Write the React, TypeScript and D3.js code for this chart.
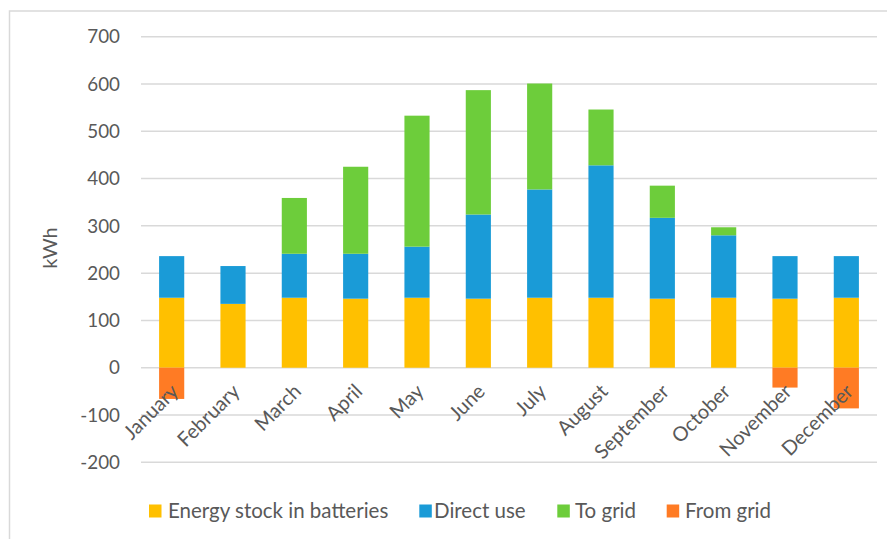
import React from "react";
import * as d3 from "d3";

const months = [
  "January", "February", "March", "April", "May", "June",
  "July", "August", "September", "October", "November", "December",
];
const batteryStock = [148, 135, 148, 146, 148, 146, 148, 148, 146, 148, 146, 148];
const directUse = [88, 80, 93, 95, 108, 178, 229, 280, 171, 132, 90, 88];
const toGrid = [0, 0, 118, 184, 277, 263, 224, 118, 68, 17, 0, 0];
const fromGrid = [-66, 0, 0, 0, 0, 0, 0, 0, 0, 0, -42, -86];
const yTicks = [-200, -100, 0, 100, 200, 300, 400, 500, 600, 700];

const seriesNames = ["Energy stock in batteries", "Direct use", "To grid", "From grid"];
const seriesColors = ["#FFC000", "#1A9BD7", "#6DCD3B", "#FF7B24"];

const W = 887;
const H = 539;
const plot = { left: 141, right: 877, top: 36.7, bottom: 462.3 };
const FONT = "Lato, 'Open Sans', sans-serif";
const TEXT = "#595959";
const GRID = "#D9D9D9";

export default function App() {
  const x = d3.scaleBand<string>()
    .domain(months)
    .range([plot.left, plot.right])
    .paddingInner(0.59)
    .paddingOuter(0.295);
  const y = d3.scaleLinear().domain([-200, 700]).range([plot.bottom, plot.top]);

  const rows = months.map((m, i) => ({
    month: m,
    stock: batteryStock[i],
    direct: directUse[i],
    grid: toGrid[i],
  }));
  const stacked = d3.stack<any>().keys(["stock", "direct", "grid"])(rows);

  const legendItems = [
    { x: 149, textX: 168 },
    { x: 419.3, textX: 434 },
    { x: 557.3, textX: 575 },
    { x: 666.7, textX: 685 },
  ];

  return (
    <svg
      width={W}
      height={H}
      style={{ position: "absolute", left: 0, top: 0, background: "#fff" }}
      fontFamily={FONT}
    >
      <rect x={9.5} y={11} width={W + 20} height={H + 20} fill="#fff" stroke={GRID} strokeWidth={1.5} />

      {yTicks.map((t) => (
        <g key={t}>
          <line x1={plot.left} x2={plot.right} y1={y(t)} y2={y(t)} stroke={GRID} strokeWidth={1.5} />
          <text x={120} y={y(t)} dy="0.36em" textAnchor="end" fontSize={18.8} fill={TEXT}>
            {t}
          </text>
        </g>
      ))}

      <text
        transform={`translate(50, 248) rotate(-90)`}
        textAnchor="middle"
        dy="0.36em"
        fontSize={20}
        fill={TEXT}
      >
        kWh
      </text>

      {stacked.map((layer, si) => (
        <g key={si} fill={seriesColors[si]}>
          {layer.map((d, i) =>
            d[1] - d[0] > 0 ? (
              <rect
                key={i}
                x={x(months[i])}
                width={x.bandwidth()}
                y={y(d[1])}
                height={y(d[0]) - y(d[1])}
              />
            ) : null
          )}
        </g>
      ))}

      <g fill={seriesColors[3]}>
        {fromGrid.map((v, i) =>
          v < 0 ? (
            <rect key={i} x={x(months[i])} width={x.bandwidth()} y={y(0)} height={y(v) - y(0)} />
          ) : null
        )}
      </g>

      {months.map((m) => {
        const cx = (x(m) as number) + x.bandwidth() / 2 + 8;
        const cy = y(0) + 25;
        return (
          <text
            key={m}
            transform={`translate(${cx}, ${cy}) rotate(-45)`}
            textAnchor="end"
            fontSize={20}
            fill={TEXT}
          >
            {m}
          </text>
        );
      })}

      {seriesNames.map((name, i) => (
        <g key={name}>
          <rect x={legendItems[i].x} y={504.5} width={12.5} height={13} fill={seriesColors[i]} />
          <text x={legendItems[i].textX} y={511} dy="0.36em" fontSize={20.5} fill={TEXT}>
            {name}
          </text>
        </g>
      ))}
    </svg>
  );
}
